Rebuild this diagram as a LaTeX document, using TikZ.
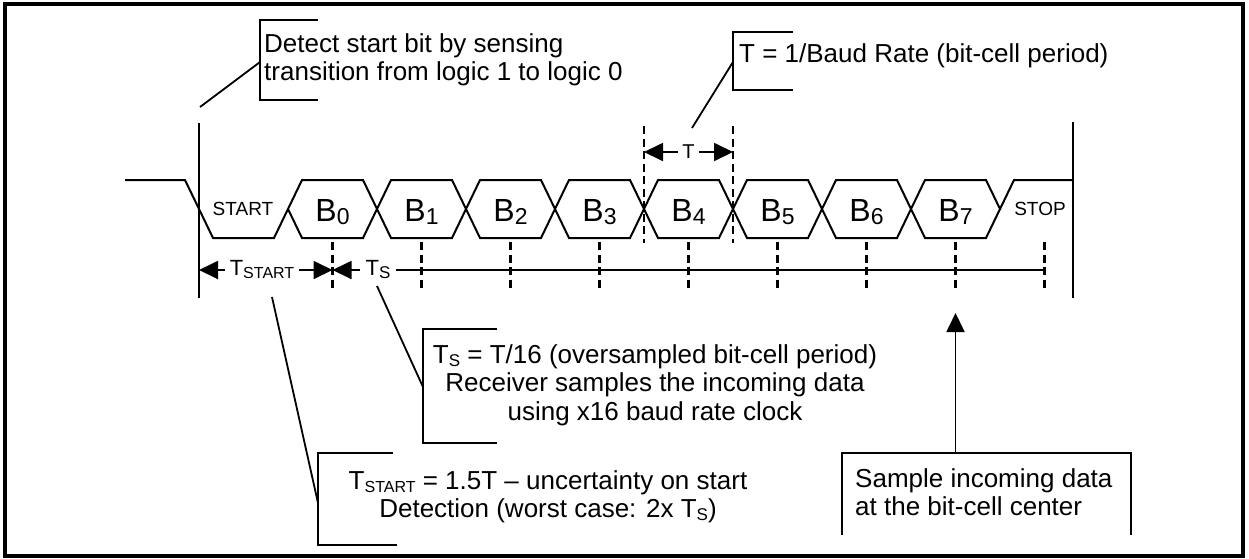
\documentclass[tikz,border=0pt]{standalone}
\usepackage{fontspec}
\setmainfont{Liberation Sans}
\usetikzlibrary{arrows.meta}
\tikzset{
	wave/.style={line width=2pt, line join=miter},
	samp/.style={line width=2.7pt, dash pattern=on 8pt off 4.5pt},
	lead/.style={line width=1.8pt},
	arr/.style={line width=1.8pt, -{Triangle[length=19pt,width=18pt]}},
	note/.style={inner sep=0pt, font=\fontsize{26}{28.5}\selectfont},
	bitlabel/.style={inner sep=0pt, anchor=base, font=\fontsize{32}{32}\selectfont},
	tiny/.style={inner sep=0pt, font=\fontsize{19}{19}\selectfont},
	span/.style={inner sep=5pt, font=\fontsize{22}{22}\selectfont}
}
% lowered small text for subscripts
\newcommand{\lsub}[2][16]{\raisebox{-3pt}{\fontsize{#1}{#1}\selectfont #2}}
% one data bit: hexagon from its left vertex, label and sample line
\def\bitcell#1#2{%
	\draw[wave] (#1,209) -- ++(14,-29) -- ++(61,0) -- ++(14,29) -- ++(-14,29) -- ++(-61,0) -- cycle;
	\node[bitlabel] (bit#2) at (#1+44.5,221) {B\lsub[23]{#2}};
	\draw[samp] (#1+44.5,242) -- (#1+44.5,292);
}

\begin{document}
\begin{tikzpicture}[x=1pt,y=-1pt]
			%%%%% START %%%%%
			\useasboundingbox (0,0) rectangle (1249,558);
			\draw[line width=3.2pt] (5,4) rectangle (1243,556);
			
			% frame edges
			\draw[wave] (199,123) -- (199,298);
			\draw[wave] (1073,122) -- (1073,298);
			
			% idle, start and stop
			\draw[wave] (125,180) -- (185,180) -- (213,238) -- (274,238) -- (288,209);
			\node[tiny] (start) at (243,209) {START};
			\draw[wave] (1000,209) -- (1014,180) -- (1073,180);
			\node[tiny] (stop) at (1040,209) {STOP};
			
			\bitcell{288}{0}
			\bitcell{377}{1}
			\bitcell{466}{2}
			\bitcell{555}{3}
			\bitcell{644}{4}
			\bitcell{733}{5}
			\bitcell{822}{6}
			\bitcell{911}{7}
			\draw[samp] (1044.5,242) -- (1044.5,292);
			
			% bit period
			\draw[samp] (644,126) -- (644,243);
			\draw[samp] (733,126) -- (733,243);
			\coordinate (tleft) at (644,152);
			\coordinate (tright) at (733,152);
			\node[span, font=\fontsize{20}{20}\selectfont, inner sep=4pt] (tcell) at (688.5,152) {T};
			\draw[arr] (tcell) -- (tleft);
			\draw[arr] (tcell) -- (tright);
			
			% start and sample spans
			\coordinate (edgeL) at (199,270);
			\coordinate (samp0) at (332.5,270);
			\coordinate (sampstop) at (1044.5,270);
			\node[span] (tstart) at (262,270) {T\lsub{START}};
			\node[span] (tsamp) at (378,270) {T\lsub[17]{S}};
			\draw[arr] (tstart) -- (edgeL);
			\draw[arr] (tstart) -- (samp0);
			\draw[arr] (tsamp) -- (samp0);
			\draw[lead] (tsamp) -- (sampstop);
			
			% callouts
			\draw[lead] (318,20) -- (260,20) -- (260,100) -- (318,100);
			\coordinate (detectfoot) at (200,107);
			\coordinate (detectmid) at (260,62);
			\draw[lead] (detectmid) -- (detectfoot);
			\node[note, anchor=north west, align=left] (detect) at (264,33) {Detect start bit by sensing\\transition from logic 1 to logic 0};
			
			\draw[lead] (793,32) -- (733,32) -- (733,90) -- (793,90);
			\coordinate (periodfoot) at (692,128);
			\coordinate (periodmid) at (733,62);
			\draw[lead] (periodmid) -- (periodfoot);
			\node[note, anchor=north west] (period) at (739,43) {T = 1/Baud Rate (bit-cell period)};
			
			\draw[lead] (497,329) -- (423,329) -- (423,443) -- (497,443);
			\coordinate (oversampfoot) at (377,286);
			\coordinate (oversampmid) at (423,387);
			\draw[lead] (oversampmid) -- (oversampfoot);
			\node[note, anchor=north, align=center] (oversamp) at (655,344) {T\lsub[17]{S} = T/16 (oversampled bit-cell period)\\Receiver samples the incoming data\\using x16 baud rate clock};
			
			\draw[lead] (393,453) -- (318,453) -- (318,545) -- (397,545);
			\coordinate (uncertfoot) at (272,297);
			\coordinate (uncertmid) at (318,503);
			\draw[lead] (uncertmid) -- (uncertfoot);
			\node[note, anchor=north, align=center] (uncert) at (548,470) {T\lsub{START} = 1.5T -- uncertainty on start\\Detection (worst case: 2x T\lsub[17]{S})};
			
			\draw[lead] (842,535) -- (842,453) -- (1131,453) -- (1131,535);
			\coordinate (centertop) at (955.5,453);
			\coordinate (b7samp) at (955.5,313);
			\draw[arr] (centertop) -- (b7samp);
			\node[note, anchor=north west, align=left] (center) at (855,468) {Sample incoming data\\at the bit-cell center};
			
			%%%%% END %%%%%
\end{tikzpicture}
\end{document}
